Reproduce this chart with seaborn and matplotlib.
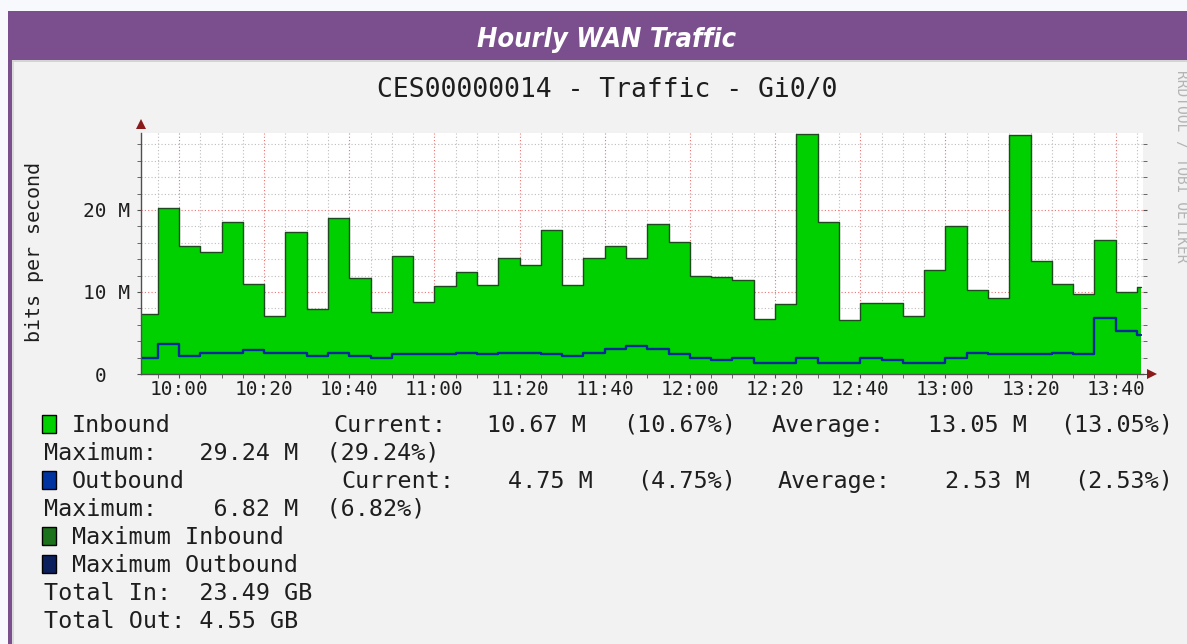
import numpy as np
import pandas as pd
import matplotlib
matplotlib.use("Agg")
import matplotlib.pyplot as plt
import matplotlib.dates as mdates
from matplotlib.patches import Rectangle, Polygon
from matplotlib.ticker import MultipleLocator, FixedLocator
import seaborn as sns

# ---------------- data ----------------
header_title = "Hourly WAN Traffic"
chart_title = "CES00000014 - Traffic - Gi0/0"
y_label = "bits per second"
watermark = "RRDTOOL / TOBI OETIKER"

times = ["09:50", "09:55",
         "10:00", "10:05", "10:10", "10:15", "10:20", "10:25", "10:30", "10:35", "10:40", "10:45", "10:50", "10:55",
         "11:00", "11:05", "11:10", "11:15", "11:20", "11:25", "11:30", "11:35", "11:40", "11:45", "11:50", "11:55",
         "12:00", "12:05", "12:10", "12:15", "12:20", "12:25", "12:30", "12:35", "12:40", "12:45", "12:50", "12:55",
         "13:00", "13:05", "13:10", "13:15", "13:20", "13:25", "13:30", "13:35", "13:40", "13:45"]
end_time = "13:45:55"

# Mbit/s
inbound = [7.3, 20.3,
           15.6, 14.9, 18.5, 11.0, 7.1, 17.3, 7.9, 19.0, 11.7, 7.6, 14.4, 8.8,
           10.7, 12.4, 10.8, 14.1, 13.25, 17.5, 10.8, 14.2, 15.6, 14.2, 18.25, 16.1,
           11.9, 11.8, 11.5, 6.7, 8.5, 29.24, 18.5, 6.6, 8.7, 8.6, 7.1, 12.7,
           18.0, 10.2, 9.3, 29.2, 13.8, 11.0, 9.8, 16.3, 10.0, 10.67]
outbound = [1.9, 3.6,
            2.15, 2.6, 2.6, 2.9, 2.6, 2.6, 2.15, 2.6, 2.15, 1.9, 2.4, 2.4,
            2.4, 2.6, 2.4, 2.6, 2.6, 2.4, 2.15, 2.6, 3.1, 3.4, 3.1, 2.4,
            1.9, 1.7, 1.9, 1.4, 1.4, 1.9, 1.4, 1.4, 1.9, 1.7, 1.4, 1.4,
            1.9, 2.6, 2.4, 2.4, 2.4, 2.6, 2.4, 6.82, 5.3, 4.75]

y_ticks = [0, 10, 20]
y_tick_labels = ["0  ", "10 M", "20 M"]
x_tick_labels = ["10:00", "10:20", "10:40", "11:00", "11:20", "11:40",
                 "12:00", "12:20", "12:40", "13:00", "13:20", "13:40"]

legend_names = ["Inbound", "Outbound", "Maximum Inbound", "Maximum Outbound"]
legend_colors = ["#00CF00", "#0033A0", "#1B721B", "#0B1F5C"]
in_current = ["Current:", "10.67 M", "(10.67%)", "Average:", "13.05 M", "(13.05%)"]
out_current = ["Current:", "4.75 M", "(4.75%)", "Average:", "2.53 M", "(2.53%)"]
in_max_line = "Maximum:   29.24 M  (29.24%)"
out_max_line = "Maximum:    6.82 M  (6.82%)"
total_lines = ["Total In:  23.49 GB", "Total Out: 4.55 GB"]

# ---------------- figure ----------------
W, H = 1187, 644
MONO = "DejaVu Sans Mono"

sns.set_style("white")
plt.rcParams["font.family"] = ["DejaVu Sans Mono", "DejaVu Sans"]

fig = plt.figure(figsize=(W / 100, H / 100), dpi=100, facecolor="#F2F2F2")


def fx(x):
    return x / W


def fy(y):
    return 1 - y / H


def frect(x0, y0, x1, y1, **kw):
    fig.patches.append(Rectangle((fx(x0), fy(y1)), fx(x1) - fx(x0), fy(y0) - fy(y1),
                                 transform=fig.transFigure, figure=fig, **kw))


# page frame
frect(0, 0, W, 11, color="#F7F9FC", lw=0)
frect(0, 0, 8, H, color="#F7F9FC", lw=0)
frect(8, 11, W, 60, color="#7B4F8E", lw=0)
frect(8, 60, 12, H, color="#7B4F8E", lw=0)
frect(12, 60, W, 62, color="#D4D4D4", lw=0)
frect(12, 62, 14, H, color="#DADADA", lw=0)

fig.text(fx(607), fy(40), header_title, color="white", fontsize=19.5, fontweight="bold",
         style="italic", fontstretch="condensed", family="DejaVu Sans",
         ha="center", va="center")

fig.text(fx(607), fy(90), chart_title, color="#1E1E1E", fontsize=19, family=MONO,
         ha="center", va="center")
fig.text(fx(35), fy(252), y_label, color="#1E1E1E", fontsize=14.4, family=MONO,
         rotation=90, ha="center", va="center")
fig.text(fx(1181), fy(70), watermark, color="#B4B4B4", fontsize=10.5, family=MONO,
         rotation=270, ha="center", va="top")

# ---------------- plot ----------------
day = "2024-01-01 "
t = pd.to_datetime([day + s for s in times] + [day + end_time], format="ISO8601")
df = pd.DataFrame({"time": t,
                   "inbound": inbound + [inbound[-1]],
                   "outbound": outbound + [outbound[-1]]})

ax = fig.add_axes([fx(141), fy(374), fx(1143) - fx(141), fy(133) - fy(374)])
ax.set_facecolor("white")

ax.fill_between(df["time"], df["inbound"], step="post", color="#00CF00", lw=0, zorder=2)
sns.lineplot(data=df, x="time", y="inbound", drawstyle="steps-post", color="#1F4A1F",
             lw=1.0, ax=ax, zorder=3)
sns.lineplot(data=df, x="time", y="outbound", drawstyle="steps-post", color="#002A97",
             lw=1.7, ax=ax, zorder=4)

ax.set_xlim(pd.Timestamp(day + "09:51:05"), pd.Timestamp(day + "13:46:25"))
ax.set_ylim(0, 29.39)

xt = mdates.date2num(pd.to_datetime([day + s for s in x_tick_labels], format="ISO8601"))
ax.xaxis.set_major_locator(FixedLocator(xt))
ax.set_xticklabels(x_tick_labels, family=MONO, fontsize=14, color="#1E1E1E")
ax.xaxis.set_minor_locator(mdates.MinuteLocator(byminute=range(0, 60, 5)))
ax.yaxis.set_major_locator(FixedLocator(y_ticks))
ax.set_yticklabels(y_tick_labels, family=MONO, fontsize=14, color="#1E1E1E")
ax.yaxis.set_minor_locator(MultipleLocator(2))

ax.set_axisbelow(True)
ax.grid(which="minor", color="#BDBDBD", linestyle=(0, (1, 2)), lw=0.8)
ax.grid(which="major", color="#F07070", linestyle=(0, (1, 2)), lw=0.8)

ax.set_xlabel("")
ax.set_ylabel("")
for s in ["top", "right"]:
    ax.spines[s].set_visible(False)
for s in ["left", "bottom"]:
    ax.spines[s].set_color("#505050")
    ax.spines[s].set_linewidth(1.0)
    ax.spines[s].set_zorder(5)

ax.tick_params(axis="x", which="both", length=3, color="#505050", pad=1.5, bottom=True)
ax.tick_params(axis="y", which="both", length=3, color="#505050", pad=5,
               left=True, right=True, direction="out")
if ax.get_legend() is not None:
    ax.get_legend().remove()

# axis arrows (dark red)
arrow_c = "#8B1A1A"
fig.patches.append(Polygon([[fx(136), fy(129)], [fx(146), fy(129)], [fx(141), fy(119)]],
                           closed=True, transform=fig.transFigure, figure=fig,
                           color=arrow_c, lw=0))
fig.patches.append(Polygon([[fx(1147), fy(369)], [fx(1147), fy(379)], [fx(1157), fy(374)]],
                           closed=True, transform=fig.transFigure, figure=fig,
                           color=arrow_c, lw=0))

# ---------------- legend ----------------
def ltxt(x, base, s):
    fig.text(fx(x), fy(base), s, family=MONO, fontsize=16.8, color="#1E1E1E",
             ha="left", va="baseline")


def lbox(base, c):
    frect(42, base - 17, 56, base + 1, facecolor=c, edgecolor="black", lw=1.0)


b0 = 432
step = 28
lbox(b0, legend_colors[0])
ltxt(72, b0, legend_names[0])
for xpos, s in zip([333, 487, 623, 772, 928, 1060], in_current):
    ltxt(xpos, b0, s)
ltxt(44, b0 + step, in_max_line)

lbox(b0 + 2 * step, legend_colors[1])
ltxt(72, b0 + 2 * step, legend_names[1])
for xpos, s in zip([341, 508, 637, 778, 945, 1074], out_current):
    ltxt(xpos, b0 + 2 * step, s)
ltxt(44, b0 + 3 * step, out_max_line)

lbox(b0 + 4 * step, legend_colors[2])
ltxt(72, b0 + 4 * step, legend_names[2])
lbox(b0 + 5 * step, legend_colors[3])
ltxt(72, b0 + 5 * step, legend_names[3])
ltxt(44, b0 + 6 * step, total_lines[0])
ltxt(44, b0 + 7 * step, total_lines[1])

fig.savefig("out.png", dpi=100, facecolor=fig.get_facecolor())
